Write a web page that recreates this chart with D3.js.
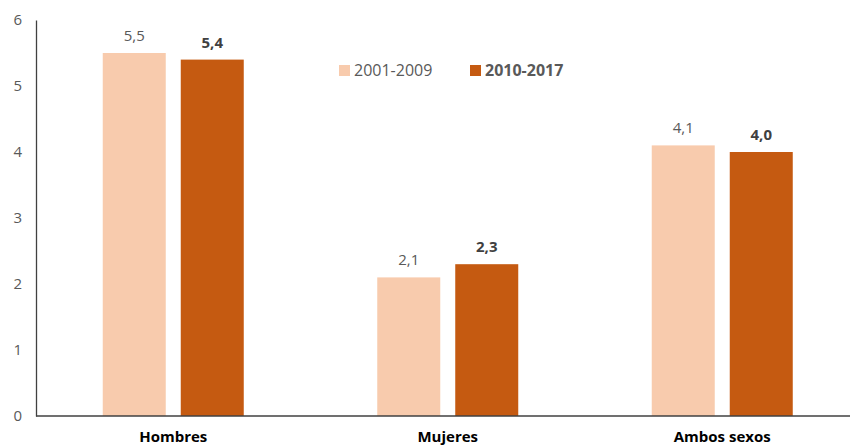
<!DOCTYPE html>
<html><head><meta charset="utf-8">
<script src="https://cdn.jsdelivr.net/npm/d3@7"></script>
<style>body{margin:0;background:#fff;} text{font-family:"Open Sans",sans-serif;}</style>
</head><body>
<svg id="c" width="850" height="446"></svg>
<script>
const categories = ["Hombres", "Mujeres", "Ambos sexos"];
const seriesNames = ["2001-2009", "2010-2017"];
const values2001_2009 = [5.5, 2.1, 4.1];
const values2010_2017 = [5.4, 2.3, 4.0];
const yTicks = [0, 1, 2, 3, 4, 5, 6];
const colors = ["#F8CBAD", "#C55A11"];

const svg = d3.select("#c");
const x0 = 36, plotW = 823.5, yTop = 20, yBot = 416;
const x = d3.scaleBand().domain(categories).range([x0, x0 + plotW]).paddingInner(0).paddingOuter(0);
const y = d3.scaleLinear().domain([0, 6]).range([yBot, yTop]);
const series = [values2001_2009, values2010_2017];
const barW = 63, gap = 15;

// y axis
const yAxis = d3.axisLeft(y).tickValues(yTicks).tickSize(0).tickPadding(14).tickFormat(d3.format("d"));
const ga = svg.append("g").attr("transform", `translate(${x0},0)`).call(yAxis);
ga.select(".domain").attr("stroke", "#404040").attr("stroke-width", 1.3);
ga.selectAll("text").attr("fill", "#595959").style("font-size", "15px");

// bars
series.forEach((vals, si) => {
  const g = svg.append("g");
  g.selectAll("rect").data(vals).join("rect")
    .attr("x", (d, i) => x(categories[i]) + x.bandwidth() / 2 + (si === 0 ? -(barW + gap / 2) : gap / 2))
    .attr("y", d => y(d))
    .attr("width", barW)
    .attr("height", d => yBot - y(d))
    .attr("fill", colors[si]);
  g.selectAll("text").data(vals).join("text")
    .attr("x", (d, i) => x(categories[i]) + x.bandwidth() / 2 + (si === 0 ? -(barW / 2 + gap / 2) : barW / 2 + gap / 2))
    .attr("y", d => y(d) - 12)
    .attr("text-anchor", "middle")
    .attr("fill", si === 0 ? "#595959" : "#404040")
    .style("font-size", "15px")
    .style("font-weight", si === 0 ? "normal" : "bold")
    .text(d => d3.format(".1f")(d).replace(".", ","));
});

// x axis line
svg.append("line").attr("x1", x0).attr("x2", 850).attr("y1", yBot).attr("y2", yBot)
  .attr("stroke", "#404040").attr("stroke-width", 1.3);

// category labels
svg.append("g").selectAll("text").data(categories).join("text")
  .attr("x", d => x(d) + x.bandwidth() / 2)
  .attr("y", 442)
  .attr("text-anchor", "middle")
  .attr("fill", "#000")
  .style("font-size", "15px")
  .style("font-weight", "bold")
  .text(d => d);

// legend
const legX = [339, 470];
seriesNames.forEach((n, i) => {
  svg.append("rect").attr("x", legX[i]).attr("y", 65).attr("width", 11).attr("height", 11).attr("fill", colors[i]);
  svg.append("text").attr("x", legX[i] + 15).attr("y", 76)
    .attr("fill", "#595959").style("font-size", "16px")
    .style("font-weight", i === 0 ? "normal" : "bold").text(n);
});
</script>
</body></html>
